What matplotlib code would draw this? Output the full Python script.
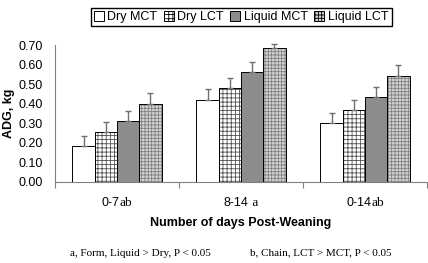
import numpy as np
import matplotlib
matplotlib.use('Agg')
import matplotlib.pyplot as plt
from matplotlib.patches import Patch
from matplotlib.offsetbox import TextArea, HPacker, AnnotationBbox

plt.rcParams['font.family'] = ['Liberation Sans', 'DejaVu Sans']
plt.rcParams['hatch.linewidth'] = 0.6

# data
periods = ['0-7', '8-14', '0-14']
period_marks = ['ab', ' a', 'ab']
series = ['Dry MCT', 'Dry LCT', 'Liquid MCT', 'Liquid LCT']
dry_mct = [0.183, 0.420, 0.300]
dry_lct = [0.253, 0.479, 0.368]
liquid_mct = [0.310, 0.564, 0.433]
liquid_lct = [0.397, 0.684, 0.542]
dry_mct_se = [0.051, 0.055, 0.054]
dry_lct_se = [0.052, 0.051, 0.052]
liquid_mct_se = [0.051, 0.051, 0.051]
liquid_lct_se = [0.056, 0.022, 0.055]
yticks = [0.0, 0.1, 0.2, 0.3, 0.4, 0.5, 0.6, 0.7]

values = [dry_mct, dry_lct, liquid_mct, liquid_lct]
errors = [dry_mct_se, dry_lct_se, liquid_mct_se, liquid_lct_se]
# (fill colour, hatch, hatch colour)
styles = [('white', '', 'black'),
          ('white', '++++', '#505050'),
          ('#8c8c8c', '', 'black'),
          ('#d4d4d4', '+++++', '#808080')]

fig = plt.figure(figsize=(4.28, 2.63), dpi=100)
ax = fig.add_axes([55/428, 1-182/263, 372/428, 137/263])

x = np.arange(len(periods))
w = 0.18
for i, (vals, errs, st) in enumerate(zip(values, errors, styles)):
    pos = x + (i - 1.5) * w
    fc, hatch, hc = st
    if hatch:
        ax.bar(pos, vals, w, color=fc, edgecolor=hc, hatch=hatch, linewidth=0, zorder=2)
        ax.bar(pos, vals, w, fill=False, edgecolor='black', linewidth=0.7, zorder=3)
    else:
        ax.bar(pos, vals, w, color=fc, edgecolor='black', linewidth=0.7, zorder=3)
    ax.errorbar(pos, vals, yerr=[np.zeros(len(vals)), errs], fmt='none',
                ecolor='#707070', elinewidth=1, capsize=2, capthick=1,
                zorder=4, clip_on=False)

ax.set_xlim(-0.5, 2.5)
ax.set_ylim(0, 0.7)
ax.set_yticks(yticks)
ax.set_yticklabels([f'{v:.2f}' for v in yticks], fontsize=9)
ax.tick_params(axis='y', length=0, pad=9)
ax.set_xticks([-0.5, 0.5, 1.5, 2.5])
ax.set_xticklabels([])
ax.tick_params(axis='x', length=4, direction='out', color='#808080', width=0.8)
for s in ['top', 'right']:
    ax.spines[s].set_visible(False)
for s in ['left', 'bottom']:
    ax.spines[s].set_color('#808080')
    ax.spines[s].set_linewidth(0.8)

# category labels with significance letters
for xi, lab, mark in zip(x, periods, period_marks):
    t1 = TextArea(lab, textprops=dict(fontsize=9, family='Liberation Sans'))
    t2 = TextArea(mark, textprops=dict(fontsize=9.5, family='Liberation Serif'))
    box = HPacker(children=[t1, t2], align='baseline', pad=0, sep=0)
    ab = AnnotationBbox(box, (xi, 0), xycoords=('data', 'axes fraction'),
                        xybox=(0, -15), boxcoords='offset points',
                        box_alignment=(0.5, 0.5), frameon=False)
    ax.add_artist(ab)

fig.text(9/428, 1-113/263, 'ADG, kg', fontsize=9, fontweight='bold',
         rotation=90, ha='center', va='center')
fig.text(241/428, 1-223/263, 'Number of days Post-Weaning', fontsize=9,
         fontweight='bold', ha='center', va='center')

fig.text(70/428, 1-253/263, 'a, Form, Liquid > Dry, P < 0.05', fontsize=8,
         family='Liberation Serif', ha='left', va='center')
fig.text(250/428, 1-253/263, 'b, Chain, LCT > MCT, P < 0.05', fontsize=8,
         family='Liberation Serif', ha='left', va='center')

handles = [Patch(facecolor=st[0], edgecolor='black', hatch=st[1], linewidth=0.7)
           for st in styles]
fig.legend(handles, series, loc='upper center', bbox_to_anchor=(241/428, 1-8/263),
           ncol=4, fontsize=9, handlelength=0.8, handleheight=0.8,
           handletextpad=0.3, columnspacing=0.5, borderpad=0.25,
           fancybox=False, edgecolor='black', framealpha=1, borderaxespad=0)

fig.savefig('out.png', dpi=100)
